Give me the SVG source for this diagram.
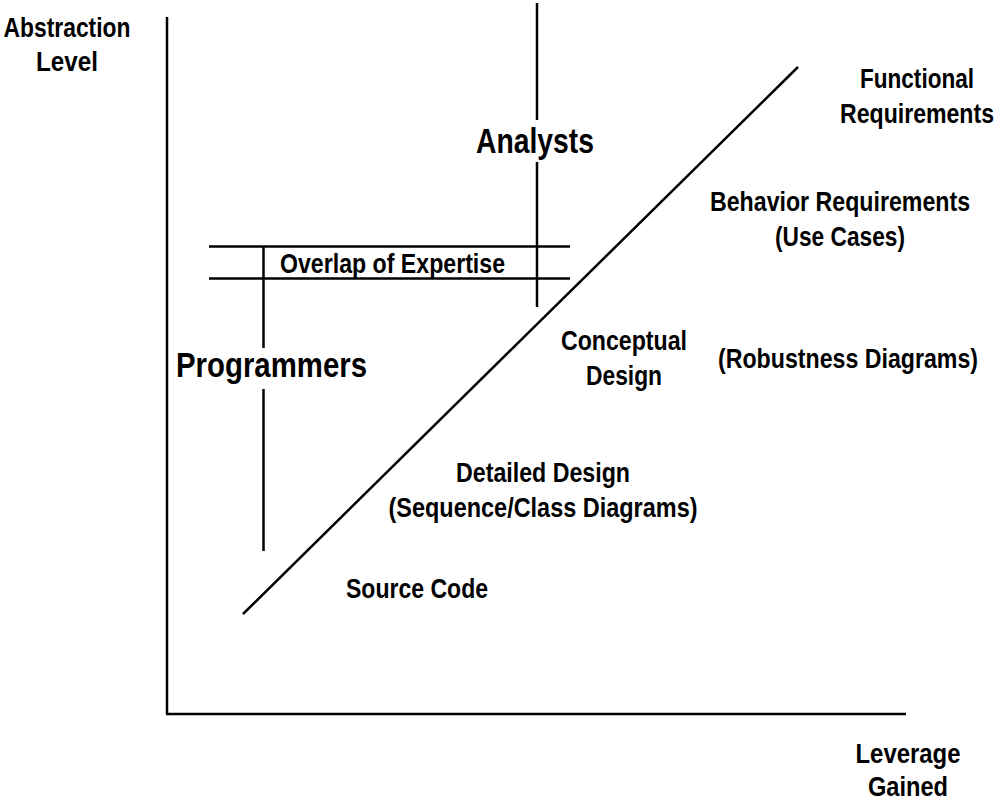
<svg xmlns="http://www.w3.org/2000/svg" width="1000" height="802" viewBox="0 0 1000 802">
<style>
.ln{stroke:#000;stroke-width:2.5;fill:none;stroke-linecap:butt}
text{font-family:"Liberation Sans Narrow","Liberation Sans",Arial,sans-serif;font-weight:bold;fill:#000;text-anchor:middle}
.m{font-size:27px}
.l{font-size:35px}
</style>
<rect width="1000" height="802" fill="#fff"/>
<g id="connectors">
<line class="ln" x1="167" y1="17" x2="167" y2="714"/>
<line class="ln" x1="166" y1="714" x2="906" y2="714"/>
<line class="ln" x1="243" y1="614" x2="798" y2="67"/>
<line class="ln" x1="537" y1="3" x2="537" y2="120"/>
<line class="ln" x1="537" y1="162" x2="537" y2="307"/>
<line class="ln" x1="209" y1="246.5" x2="570" y2="246.5"/>
<line class="ln" x1="209" y1="278.5" x2="570" y2="278.5"/>
<line class="ln" x1="263.5" y1="246" x2="263.5" y2="348"/>
<line class="ln" x1="263.5" y1="389" x2="263.5" y2="551"/>
</g>
<g id="axis-y-label">
<text class="m" transform="matrix(0.8,0,0,1,67,37)" textLength="158.75" lengthAdjust="spacingAndGlyphs">Abstraction</text>
<text class="m" transform="matrix(0.8,0,0,1,67,71)" textLength="77.5" lengthAdjust="spacingAndGlyphs">Level</text>
</g>
<g id="axis-x-label">
<text class="m" transform="matrix(0.8,0,0,1,908,763)" textLength="131.25" lengthAdjust="spacingAndGlyphs">Leverage</text>
<text class="m" transform="matrix(0.8,0,0,1,908,796)" textLength="100" lengthAdjust="spacingAndGlyphs">Gained</text>
</g>
<g id="analysts"><text class="l" transform="matrix(0.8,0,0,1,535,153)" textLength="147.5" lengthAdjust="spacingAndGlyphs">Analysts</text></g>
<g id="programmers"><text class="l" transform="matrix(0.8,0,0,1,271.5,377)" textLength="238.75" lengthAdjust="spacingAndGlyphs">Programmers</text></g>
<g id="overlap"><text class="m" transform="matrix(0.8,0,0,1,392.5,273)" textLength="281.25" lengthAdjust="spacingAndGlyphs">Overlap of Expertise</text></g>
<g id="functional">
<text class="m" transform="matrix(0.8,0,0,1,917,88)" textLength="142.5" lengthAdjust="spacingAndGlyphs">Functional</text>
<text class="m" transform="matrix(0.8,0,0,1,917,123)" textLength="192.5" lengthAdjust="spacingAndGlyphs">Requirements</text>
</g>
<g id="behavior">
<text class="m" transform="matrix(0.8,0,0,1,840,211)" textLength="325" lengthAdjust="spacingAndGlyphs">Behavior Requirements</text>
<text class="m" transform="matrix(0.8,0,0,1,840,246)" textLength="162.5" lengthAdjust="spacingAndGlyphs">(Use Cases)</text>
</g>
<g id="conceptual">
<text class="m" transform="matrix(0.8,0,0,1,624,350)" textLength="157.5" lengthAdjust="spacingAndGlyphs">Conceptual</text>
<text class="m" transform="matrix(0.8,0,0,1,624,385)" textLength="95" lengthAdjust="spacingAndGlyphs">Design</text>
</g>
<g id="robustness"><text class="m" transform="matrix(0.8,0,0,1,848,368)" textLength="325" lengthAdjust="spacingAndGlyphs">(Robustness Diagrams)</text></g>
<g id="detailed">
<text class="m" transform="matrix(0.8,0,0,1,543,482)" textLength="217.5" lengthAdjust="spacingAndGlyphs">Detailed Design</text>
<text class="m" transform="matrix(0.8,0,0,1,543,517)" textLength="386.25" lengthAdjust="spacingAndGlyphs">(Sequence/Class Diagrams)</text>
</g>
<g id="source"><text class="m" transform="matrix(0.8,0,0,1,417,598)" textLength="177.5" lengthAdjust="spacingAndGlyphs">Source Code</text></g>
</svg>
